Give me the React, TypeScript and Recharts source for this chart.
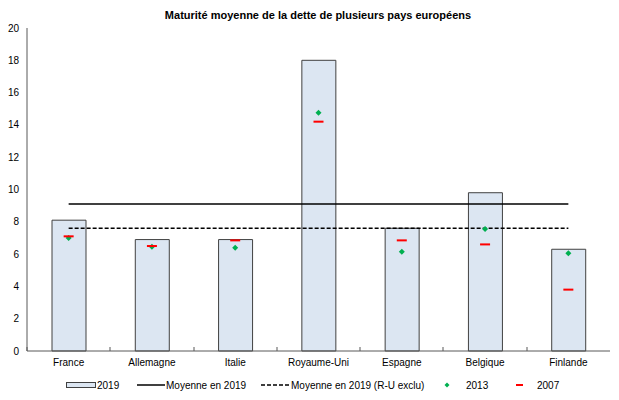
import React from 'react';
import {
  ComposedChart,
  Bar,
  Line,
  Scatter,
  XAxis,
  YAxis,
  Legend,
} from 'recharts';

const countries = ['France', 'Allemagne', 'Italie', 'Royaume-Uni', 'Espagne', 'Belgique', 'Finlande'];
const maturity2019 = [8.1, 6.9, 6.9, 18.0, 7.6, 9.8, 6.3];
const average2019 = [9.1, 9.1, 9.1, 9.1, 9.1, 9.1, 9.1];
const averageExUK = [7.6, 7.6, 7.6, 7.6, 7.6, 7.6, 7.6];
const maturity2013 = [7.0, 6.45, 6.4, 14.75, 6.15, 7.55, 6.05];
const maturity2007 = [7.1, 6.5, 6.85, 14.2, 6.85, 6.6, 3.8];
const yTicks = [0, 2, 4, 6, 8, 10, 12, 14, 16, 18, 20];

const FONT = '"Liberation Sans", Arial, sans-serif';
const CHART_W = 619;
const CHART_H = 400;
const MARGIN = { top: 28, right: 9, bottom: 0, left: 0 };
const Y_AXIS_W = 27;
const X_AXIS_H = 20;
const LEGEND_H = 29;
const PLOT_W = CHART_W - MARGIN.left - MARGIN.right - Y_AXIS_W;
// y of the x axis line (bottom of the plot area)
const AXIS_Y = CHART_H - MARGIN.bottom - LEGEND_H - X_AXIS_H;

const data = countries.map((c, i) => ({
  country: c,
  y2019: maturity2019[i],
  avg: average2019[i],
  avgEx: averageExUK[i],
  y2013: maturity2013[i],
  y2007: maturity2007[i],
}));

const Diamond = (props: any) => {
  const { cx, cy } = props;
  if (cx == null || cy == null) return <g />;
  return <polygon points={`${cx},${cy - 3} ${cx + 3},${cy} ${cx},${cy + 3} ${cx - 3},${cy}`} fill="#00b050" />;
};

const Dash = (props: any) => {
  const { cx, cy } = props;
  if (cx == null || cy == null) return <g />;
  return <rect x={cx - 5} y={cy - 1} width={10} height={2} fill="#ff0000" />;
};

// category label; the tick mark sits on the boundary to its left, pointing up into the plot
const CountryTick = (props: any) => {
  const { x, y, payload } = props;
  const band = PLOT_W / countries.length;
  const bx = Math.round(Number(x) - band / 2);
  return (
    <g>
      <rect x={bx - 0.5} y={AXIS_Y - 4} width={1} height={4} fill="#595959" />
      <text x={x} y={y} dy="0.71em" textAnchor="middle" fontSize={10} fill="#000" fontFamily={FONT}>
        {payload.value}
      </text>
    </g>
  );
};

function LegendBox() {
  const txt = { fontSize: 10, fill: '#000', fontFamily: FONT };
  return (
    <svg width={619} height={LEGEND_H} style={{ display: 'block' }}>
      <rect x={66.5} y={11.5} width={29} height={5} fill="#dce6f2" stroke="#404040" />
      <text x={97} y={17.5} {...txt}>2019</text>
      <line x1={137} y1={14} x2={165} y2={14} stroke="#000" strokeWidth={1.5} />
      <text x={166} y={17.5} {...txt}>Moyenne en 2019</text>
      <line x1={261} y1={14} x2={290} y2={14} stroke="#000" strokeWidth={1.5} strokeDasharray="4 2" />
      <text x={291} y={17.5} {...txt}>Moyenne en 2019 (R-U exclu)</text>
      <polygon points="447,11.5 449.5,14 447,16.5 444.5,14" fill="#00b050" />
      <text x={466} y={17.5} {...txt}>2013</text>
      <rect x={516} y={13} width={7} height={2} fill="#ff0000" />
      <text x={537} y={17.5} {...txt}>2007</text>
    </svg>
  );
}

export default function App() {
  return (
    <div style={{ position: 'absolute', left: 0, top: 0, width: CHART_W, height: CHART_H, background: '#fff' }}>
      <div
        style={{
          position: 'absolute',
          top: 9,
          left: 0,
          width: 636,
          textAlign: 'center',
          fontFamily: FONT,
          fontWeight: 'bold',
          fontSize: 11,
        }}
      >
        Maturité moyenne de la dette de plusieurs pays européens
      </div>
      <ComposedChart width={CHART_W} height={CHART_H} data={data} margin={MARGIN}>
        <XAxis
          dataKey="country"
          height={X_AXIS_H}
          interval={0}
          tickLine={false}
          axisLine={{ stroke: '#595959' }}
          tick={(p: any) => <CountryTick {...p} />}
        />
        <XAxis
          xAxisId="top"
          orientation="top"
          dataKey="country"
          height={0}
          tick={false}
          tickLine={false}
          axisLine={{ stroke: '#a6a6a6' }}
        />
        <YAxis
          width={Y_AXIS_W}
          domain={[0, 20]}
          ticks={yTicks}
          interval={0}
          tickLine={false}
          axisLine={{ stroke: '#595959' }}
          tick={{ fontSize: 10, fill: '#000', fontFamily: FONT }}
        />
        <YAxis
          yAxisId="right"
          orientation="right"
          width={0}
          domain={[0, 20]}
          tick={false}
          tickLine={false}
          axisLine={{ stroke: '#a6a6a6' }}
        />
        <Legend
          verticalAlign="bottom"
          content={() => <LegendBox />}
          wrapperStyle={{ height: LEGEND_H, width: 619, left: 0 }}
        />
        <Bar dataKey="y2019" barSize={34} fill="#dce6f2" stroke="#404040" strokeWidth={1} isAnimationActive={false} />
        <Line dataKey="avg" stroke="#000" strokeWidth={1.5} dot={false} activeDot={false} isAnimationActive={false} />
        <Line
          dataKey="avgEx"
          stroke="#000"
          strokeWidth={1.5}
          strokeDasharray="4 2"
          dot={false}
          activeDot={false}
          isAnimationActive={false}
        />
        <Scatter dataKey="y2013" shape={<Diamond />} isAnimationActive={false} />
        <Scatter dataKey="y2007" shape={<Dash />} isAnimationActive={false} />
      </ComposedChart>
    </div>
  );
}
